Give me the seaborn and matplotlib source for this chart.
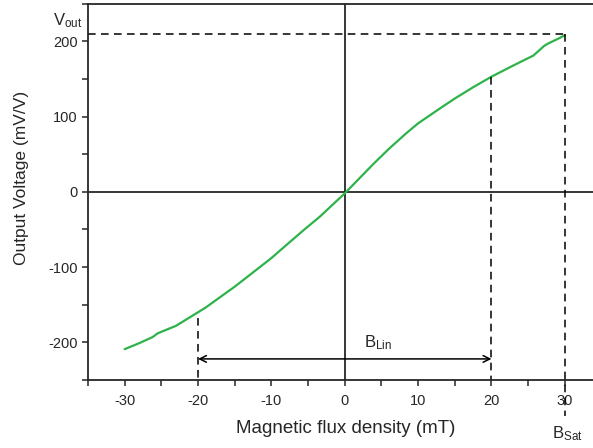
import numpy as np
import pandas as pd
import matplotlib
matplotlib.use("Agg")
import matplotlib.pyplot as plt
import seaborn as sns

# Output voltage curve
flux = [-30, -28, -26.2, -25.5, -23, -21, -19, -17, -15, -12.5, -10, -8, -5.5, -3.4, 0,
        2, 3.9, 6, 8.4, 10, 13, 15, 17.5, 20, 23, 25.7, 27.2, 27.7, 29, 30]
vout = [-209, -201, -193, -188, -178, -166, -154, -140, -126, -107, -88, -71, -50, -33, -2,
        18, 37, 57, 78, 91, 111, 124, 139, 153, 168, 181, 194, 197, 203, 208]

# marker values
v_sat = 210
b_lin = 20
b_sat = 30
y_lin_left = -168
y_lin_right = 153
arrow_y = -222

xticks = [-30, -20, -10, 0, 10, 20, 30]
yticks = [-200, -100, 0, 100, 200]

df = pd.DataFrame({"flux": flux, "vout": vout})

sns.set_style("ticks")
plt.rcParams['font.family'] = ['Liberation Sans', 'DejaVu Sans']
plt.rcParams['axes.unicode_minus'] = False
plt.rcParams['mathtext.fontset'] = 'custom'
plt.rcParams['mathtext.rm'] = 'Liberation Sans'
plt.rcParams['mathtext.it'] = 'Liberation Sans'

fig = plt.figure(figsize=(5.93, 4.48), dpi=100)
ax = fig.add_axes([0.1484, 0.1518, 0.866, 0.840])

sns.lineplot(data=df, x="flux", y="vout", color="#2db34a", linewidth=1.6, ax=ax)

# crosshair through origin
ax.axvline(0, color="black", lw=1.1, zorder=1)
ax.axhline(0, color="black", lw=1.1, zorder=1)

dash = dict(color="black", lw=1.1, linestyle=(0, (5, 3.5)))
ax.plot([-35, b_sat], [v_sat, v_sat], **dash)
ax.plot([b_sat, b_sat], [v_sat, -298], clip_on=False, **dash)
ax.plot([b_lin, b_lin], [y_lin_right, -250], **dash)
ax.plot([-b_lin, -b_lin], [y_lin_left, -250], **dash)

ax.annotate("", xy=(b_lin, arrow_y), xytext=(-b_lin, arrow_y),
            arrowprops=dict(arrowstyle="<->", color="black", lw=1.1,
                            shrinkA=0, shrinkB=0, mutation_scale=12))

ax.text(2.6, -207, r"B$_{\mathrm{Lin}}$", fontsize=12, ha="left", va="baseline")
ax.text(28.2, -327, r"B$_{\mathrm{Sat}}$", fontsize=12, ha="left", va="baseline",
        clip_on=False)
ax.text(-39.8, 221, r"V$_{\mathrm{out}}$", fontsize=12, ha="left", va="baseline",
        clip_on=False)

ax.set_xlim(-35, 35)
ax.set_ylim(-250, 250)
ax.set_xticks(xticks)
ax.set_yticks(yticks)
ax.set_xticks(np.arange(-35, 36, 5), minor=True)
ax.set_yticks(np.arange(-250, 251, 50), minor=True)
ax.tick_params(which="both", direction="out", length=4, width=1.1, labelsize=10.5)
ax.tick_params(axis="x", pad=6)

for side in ["left", "bottom", "top"]:
    ax.spines[side].set_linewidth(1.3)
ax.spines["right"].set_visible(False)

ax.set_xlabel("Magnetic flux density (mT)", fontsize=13.5, va="center")
ax.set_ylabel("Output Voltage (mV/V)", fontsize=12.5, va="center")
ax.xaxis.set_label_coords(0.501, -0.130)
ax.yaxis.set_label_coords(-0.130, 0.537)

fig.savefig("out.png", dpi=100)
